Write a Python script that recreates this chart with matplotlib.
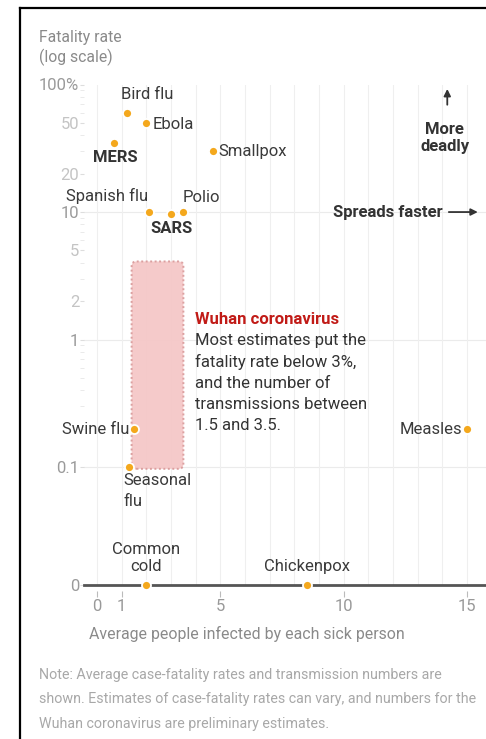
import numpy as np
import matplotlib
matplotlib.use("Agg")
import matplotlib.pyplot as plt
from matplotlib.ticker import FixedLocator, FixedFormatter, MultipleLocator
from matplotlib.patches import FancyBboxPatch
from matplotlib.lines import Line2D

# Data
diseases = ["Bird flu", "Ebola", "MERS", "Smallpox", "Spanish flu", "SARS",
            "Polio", "Swine flu", "Seasonal\nflu", "Measles", "Common\ncold", "Chickenpox"]
spread = [1.2, 2.0, 0.7, 4.7, 2.1, 3.0, 3.5, 1.5, 1.3, 15.0, 2.0, 8.5]
fatality = [60, 50, 35, 30, 10, 9.6, 10, 0.2, 0.1, 0.2, 0, 0]

# Wuhan coronavirus estimate box (spread range, fatality range)
wuhan_spread = [1.4, 3.5]
wuhan_fatality = [0.097, 4.1]

y_ticks = [0, 0.1, 1, 2, 5, 10, 20, 50, 100]
y_ticklabels = ["0", "0.1", "1", "2", "5", "10", "20", "50", "100%"]
x_ticks = [0, 1, 5, 10, 15]

# label placement: (dx px, dy px, ha, va, bold, linespacing)
label_pos = {
    "Bird flu": (21, 18, "center", "center", False, 1.0),
    "Ebola": (6, -2, "left", "center", False, 1.0),
    "MERS": (1, -15, "center", "center", True, 1.0),
    "Smallpox": (5, 0, "left", "center", False, 1.0),
    "Spanish flu": (-42, 16, "center", "center", False, 1.0),
    "SARS": (0, -14, "center", "center", True, 1.0),
    "Polio": (18, 15, "center", "center", False, 1.0),
    "Swine flu": (-5, -1, "right", "center", False, 1.0),
    "Seasonal\nflu": (-6, -6, "left", "top", False, 1.45),
    "Measles": (-5, -1, "right", "center", False, 1.0),
    "Common\ncold": (0, 27, "center", "center", False, 1.15),
    "Chickenpox": (0, 18, "center", "center", False, 1.0),
}

plt.rcParams["font.family"] = ["Roboto", "DejaVu Sans"]
ORANGE = "#f4a81d"
DARK = "#333333"
FS = 12

# log scale for positive values, zero gets its own row below 0.1
ZERO_ROW = -1.924


def fwd(v):
    v = np.asarray(v, dtype=float)
    out = np.full(v.shape, ZERO_ROW)
    pos = v > 0
    out[pos] = np.log10(v[pos])
    return out


def inv(u):
    return np.power(10.0, np.asarray(u, dtype=float))


fig = plt.figure(figsize=(4.86, 7.39), dpi=100)
ax = fig.add_axes([84 / 486, 1 - 585 / 739, 1 - 84 / 486, (585 - 84.5) / 739])
ax.set_yscale("function", functions=(fwd, inv))
ax.set_xlim(-0.53, 15.77)
ax.set_ylim(0, 100)

for s in ax.spines.values():
    s.set_visible(False)
ax.spines["bottom"].set_position(("outward", 4))

# grid
ax.xaxis.set_major_locator(FixedLocator(x_ticks))
ax.xaxis.set_minor_locator(MultipleLocator(1))
ax.grid(True, which="both", axis="x", color="#efefef", linewidth=0.8, zorder=0)
for g in [0.1, 1, 10]:
    ax.axhline(g, color="#ebebeb", linewidth=0.8, zorder=0)
ax.axhline(0, color="#555555", linewidth=2.0, zorder=2, clip_on=False)

ax.tick_params(axis="x", which="major", length=4, color="#bbbbbb", labelcolor="#999999",
               labelsize=FS, pad=2)
ax.tick_params(axis="x", which="minor", length=0)

ax.yaxis.set_major_locator(FixedLocator(y_ticks))
ax.yaxis.set_major_formatter(FixedFormatter(y_ticklabels))
minors = [m * 10.0 ** e for e in (-1, 0, 1) for m in range(2, 10)]
ax.yaxis.set_minor_locator(FixedLocator(minors))
ax.tick_params(axis="y", which="major", length=3, color="#dddddd", labelsize=FS, pad=0.5)
ax.tick_params(axis="y", which="minor", length=3, color="#e6e6e6")
for lab in ax.get_yticklabels():
    lab.set_color("#9a9a9a" if lab.get_text() in ("100%", "10", "1", "0.1", "0") else "#c4c4c4")

# Wuhan box, drawn in scaled (log) space so the corners stay round
(x0, y0), (x1, y1) = ax.transScale.transform(
    [[wuhan_spread[0], wuhan_fatality[0]], [wuhan_spread[1], wuhan_fatality[1]]])
box = FancyBboxPatch((x0, y0), x1 - x0, y1 - y0,
                     boxstyle="round,pad=0,rounding_size=0.2", mutation_aspect=0.19,
                     transform=ax.transLimits + ax.transAxes,
                     facecolor="#f5c6c6", edgecolor="#d99a9a", linestyle=(0, (1, 1.3)),
                     linewidth=1.4, alpha=0.92, zorder=1.8)
ax.add_patch(box)

ax.plot(spread, fatality, "o", color=ORANGE, markersize=6.5, markeredgecolor="white",
        markeredgewidth=1.3, linestyle="none", zorder=4, clip_on=False)

for name, x, y in zip(diseases, spread, fatality):
    dx, dy, ha, va, bold, ls = label_pos[name]
    ax.annotate(name, (x, y), xytext=(dx, dy), textcoords="offset pixels",
                ha=ha, va=va, fontsize=FS, color=DARK if bold else "#3a3a3a",
                fontweight="bold" if bold else "normal",
                multialignment="center" if ha == "center" else "left",
                linespacing=ls, zorder=5)

# Wuhan note
ax.text(3.97, 1.45, "Wuhan coronavirus", color="#c11b17", fontsize=FS,
        fontweight="bold", ha="left", va="center")
ax.text(3.97, 1.13, "Most estimates put the\nfatality rate below 3%,\nand the number of\n"
        "transmissions between\n1.5 and 3.5.", color=DARK, fontsize=FS,
        ha="left", va="top", linespacing=1.49)

# direction hints
ax.text(14.0, 10, "Spreads faster", ha="right", va="center", fontsize=FS,
        fontweight="bold", color=DARK)
ax.annotate("", xy=(15.55, 10), xytext=(14.15, 10),
            arrowprops=dict(arrowstyle="-|>", color=DARK, lw=1.3, mutation_scale=10))
ax.text(14.1, 38, "More\ndeadly", ha="center", va="center", fontsize=FS,
        fontweight="bold", color=DARK, linespacing=1.12)
ax.annotate("", xy=(14.2, 97), xytext=(14.2, 66),
            arrowprops=dict(arrowstyle="-|>", color=DARK, lw=1.3, mutation_scale=10))

# titles and notes
fig.text(39 / 486, 1 - 30 / 739, "Fatality rate\n(log scale)", ha="left", va="top",
         fontsize=11.3, color="#8a8a8a", linespacing=1.3)
fig.text(89 / 486, 1 - 634 / 739, "Average people infected by each sick person",
         ha="left", va="center", fontsize=11.4, color="#8a8a8a")
notes = ["Note: Average case-fatality rates and transmission numbers are",
         "shown. Estimates of case-fatality rates can vary, and numbers for the",
         "Wuhan coronavirus are preliminary estimates."]
for i, line in enumerate(notes):
    fig.text(39 / 486, 1 - (675 + 24.5 * i) / 739, line, ha="left", va="center",
             fontsize=10.3, color="#a8a8a8")

# frame of the graphic
fig.add_artist(Line2D([19.5 / 486, 19.5 / 486], [0, 1 - 8 / 739], color="black", lw=1.6,
                      transform=fig.transFigure))
fig.add_artist(Line2D([19.5 / 486, 1], [1 - 8 / 739, 1 - 8 / 739], color="black", lw=1.6,
                      transform=fig.transFigure))

fig.savefig("out.png", dpi=100)
